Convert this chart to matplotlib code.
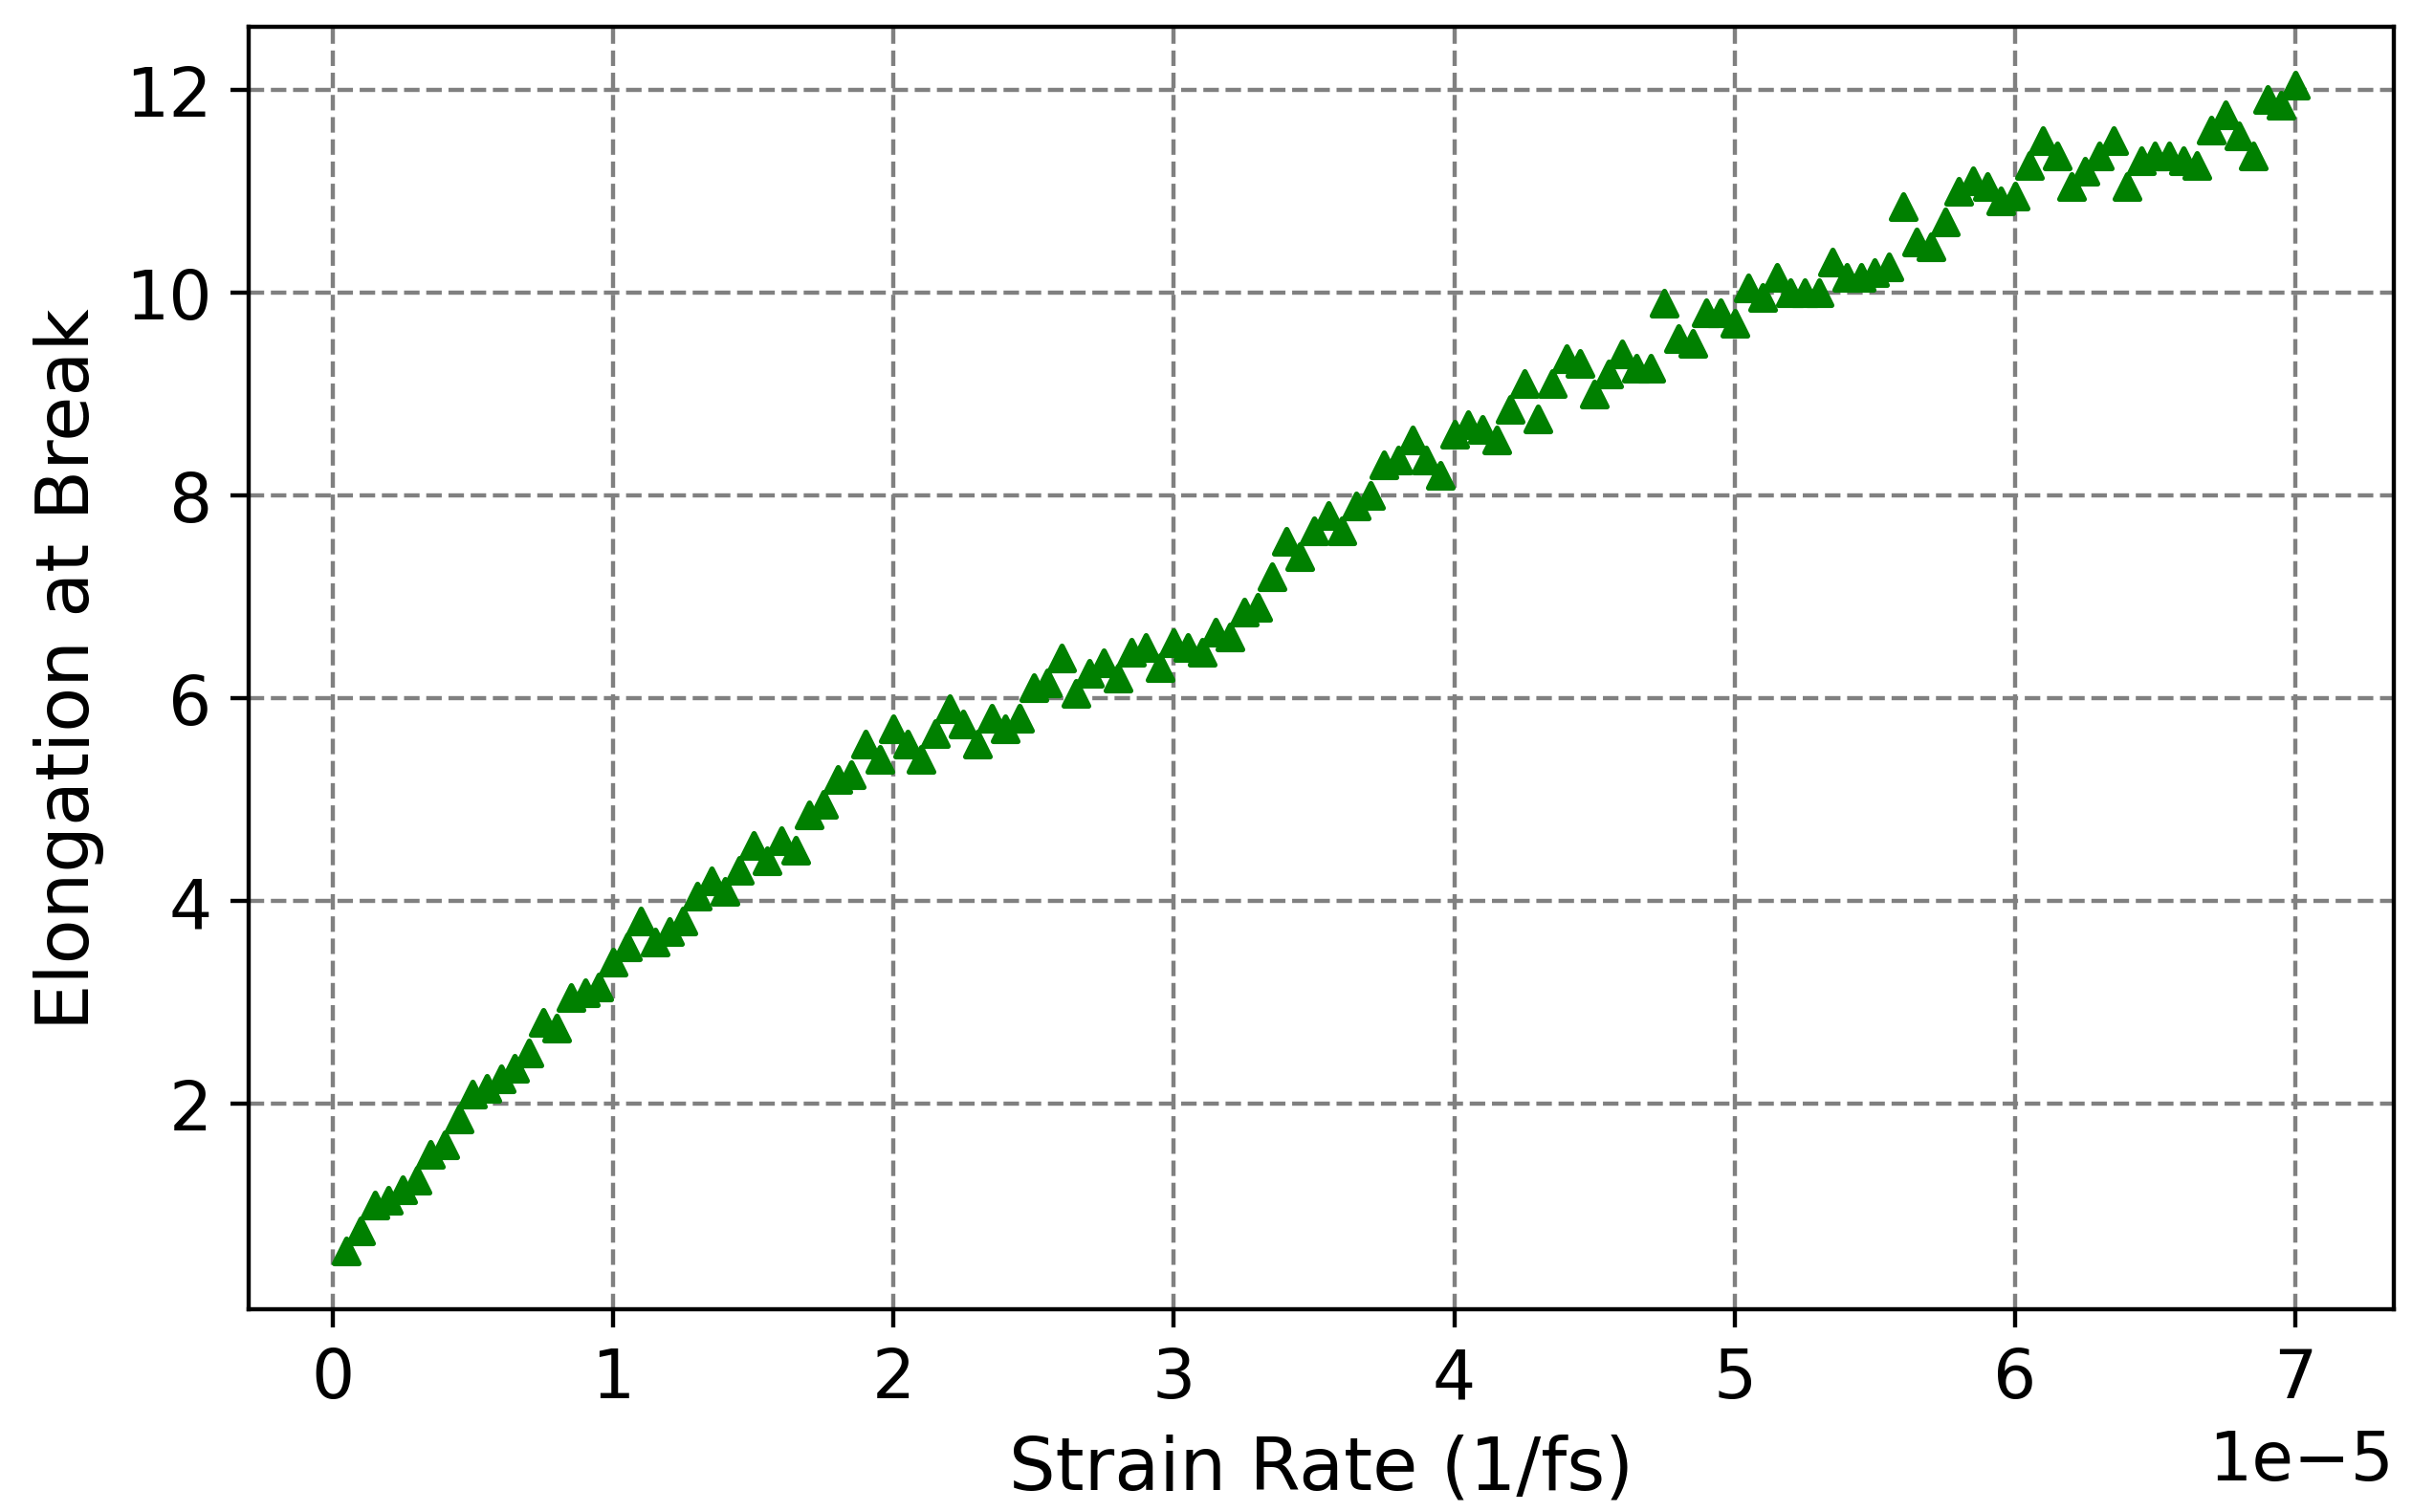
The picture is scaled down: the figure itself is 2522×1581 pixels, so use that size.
#!/usr/bin/env python3
import numpy as np
import matplotlib
matplotlib.use("Agg")
import matplotlib.pyplot as plt

# strain rate in units of 1e-5 1/fs
strain_rate = np.arange(1, 141) * 0.05e-5

elongation = [
    0.55, 0.75, 1.0, 1.05, 1.15, 1.25, 1.5, 1.6, 1.85, 2.1,
    2.15, 2.25, 2.35, 2.5, 2.8, 2.75, 3.05, 3.1, 3.15, 3.4,
    3.55, 3.8, 3.6, 3.7, 3.8, 4.05, 4.2, 4.1, 4.3, 4.55,
    4.4, 4.6, 4.5, 4.85, 4.95, 5.2, 5.25, 5.55, 5.4, 5.7,
    5.55, 5.4, 5.65, 5.9, 5.75, 5.55, 5.8, 5.7, 5.8, 6.1,
    6.15, 6.4, 6.05, 6.25, 6.35, 6.2, 6.45, 6.5, 6.3, 6.55,
    6.5, 6.45, 6.65, 6.6, 6.85, 6.9, 7.2, 7.55, 7.4, 7.65,
    7.8, 7.65, 7.9, 8.0, 8.3, 8.35, 8.55, 8.35, 8.2, 8.6,
    8.7, 8.65, 8.55, 8.85, 9.1, 8.75, 9.1, 9.35, 9.3, 9.0,
    9.2, 9.4, 9.25, 9.25, 9.9, 9.55, 9.5, 9.8, 9.8, 9.7,
    10.05, 9.95, 10.15, 10.0, 10.0, 10.0, 10.3, 10.15, 10.15, 10.2,
    10.25, 10.85, 10.5, 10.45, 10.7, 11.0, 11.1, 11.05, 10.9, 10.95,
    11.25, 11.5, 11.35, 11.05, 11.2, 11.35, 11.5, 11.05, 11.3, 11.35,
    11.35, 11.3, 11.25, 11.6, 11.75, 11.55, 11.35, 11.9, 11.85, 12.05,
]

fig, ax = plt.subplots(figsize=(6.4, 4.013), dpi=394.2)
fig.subplots_adjust(left=0.103, right=0.992, top=0.982, bottom=0.134)

ax.scatter(strain_rate, elongation, marker="^", color="green", s=22, zorder=3)
ax.grid(True, linestyle="--", color="gray", linewidth=0.8)
ax.set_xlabel("Strain Rate (1/fs)", fontsize=14)
ax.set_ylabel("Elongation at Break", fontsize=14)
ax.tick_params(labelsize=13)
ax.xaxis.get_offset_text().set_fontsize(13)
ax.set_xlim(-0.3e-5, 7.35e-5)
ax.set_yticks([2, 4, 6, 8, 10, 12])

fig.savefig("out.png", dpi=394.2)
